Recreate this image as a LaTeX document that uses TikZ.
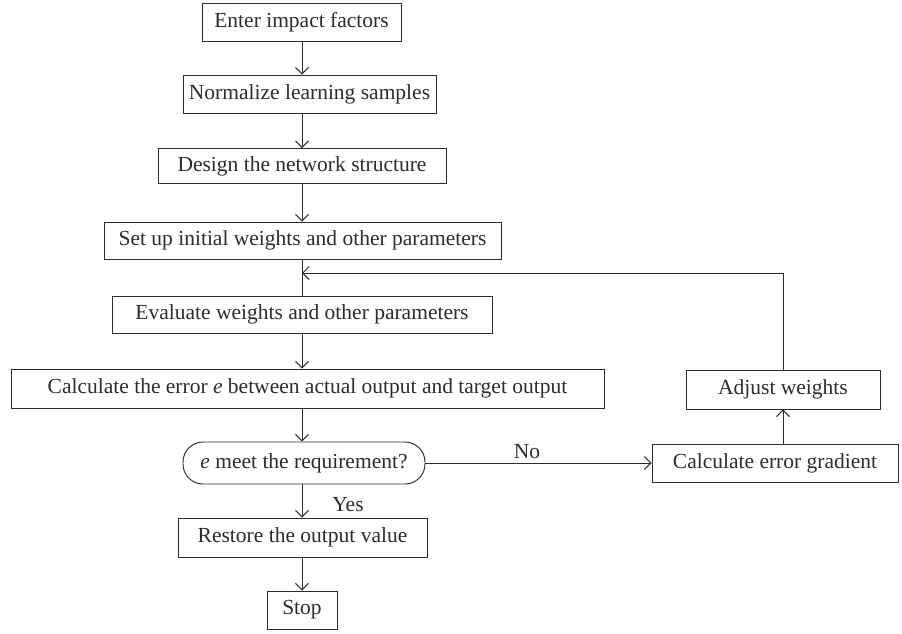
\documentclass[tikz,border=0pt]{standalone}
\usepackage{fontspec}
\setmainfont{Liberation Serif}
\usetikzlibrary{arrows.meta}
\definecolor{ink}{RGB}{45,43,43}
\begin{document}
\begin{tikzpicture}[x=1pt,y=-1pt,
  every node/.style={font=\fontsize{21.5}{24}\selectfont, text=ink},
  box/.style={draw=ink, line width=0.95pt, rectangle, inner sep=0pt},
  decision/.style={box, rounded corners=20pt},
  sz/.style 2 args={minimum width=#1, minimum height=#2},
  arr/.style={draw=ink, line width=0.95pt, -{Straight Barb[length=6.5pt,width=13pt]}},
  link/.style={draw=ink, line width=0.95pt},
  lbl/.style={inner sep=0pt}]
\useasboundingbox (0,0) rectangle (902,633);

% main column
\node[box, sz={199}{38}] (enter) at (301.5,22) {Enter impact factors};
\node[box, sz={253}{38}] (norm) at (309.5,94) {Normalize learning samples};
\node[box, sz={288}{35}] (design) at (302,166) {Design the network structure};
\node[box, sz={397}{37}] (setup) at (302.5,240.5) {Set up initial weights and other parameters};
\node[box, sz={380}{37}] (eval) at (302,314.5) {Evaluate weights and other parameters};
\node[box, sz={593}{39}] (calc) at (307.5,388.5) {Calculate the error \textit{e} between actual output and target output};
\node[decision, sz={242}{42}] (dec) at (304,463) {\textit{e} meet the requirement?};
\node[box, sz={249}{39}] (restore) at (302.5,537.5) {Restore the output value};
\node[box, sz={70}{38}] (stop) at (302,610) {Stop};

% correction loop
\node[box, sz={246}{38}] (grad) at (775,463) {Calculate error gradient};
\node[box, sz={194}{39}] (adjust) at (783,389.5) {Adjust weights};

\coordinate (spine) at (302,0);
\coordinate (merge) at (302,273);

\draw[arr] (enter.south -| spine) -- (norm.north -| spine);
\draw[arr] (norm.south -| spine) -- (design.north -| spine);
\draw[arr] (design.south -| spine) -- (setup.north -| spine);
\draw[link] (setup.south -| spine) -- (eval.north -| spine);
\draw[arr] (eval.south -| spine) -- (calc.north -| spine);
\draw[arr] (calc.south -| spine) -- (dec.north -| spine);
\draw[arr] (dec.south -| spine) -- (restore.north -| spine);
\draw[arr] (restore.south -| spine) -- (stop.north -| spine);

\draw[arr] (dec.east) -- (grad.west);
\draw[arr] (grad.north -| adjust) -- (adjust.south);
\draw[arr] (adjust.north) |- (merge);

\node[lbl] (no) at (527,452) {No};
\node[lbl] (yes) at (348,505) {Yes};
\end{tikzpicture}
\end{document}
